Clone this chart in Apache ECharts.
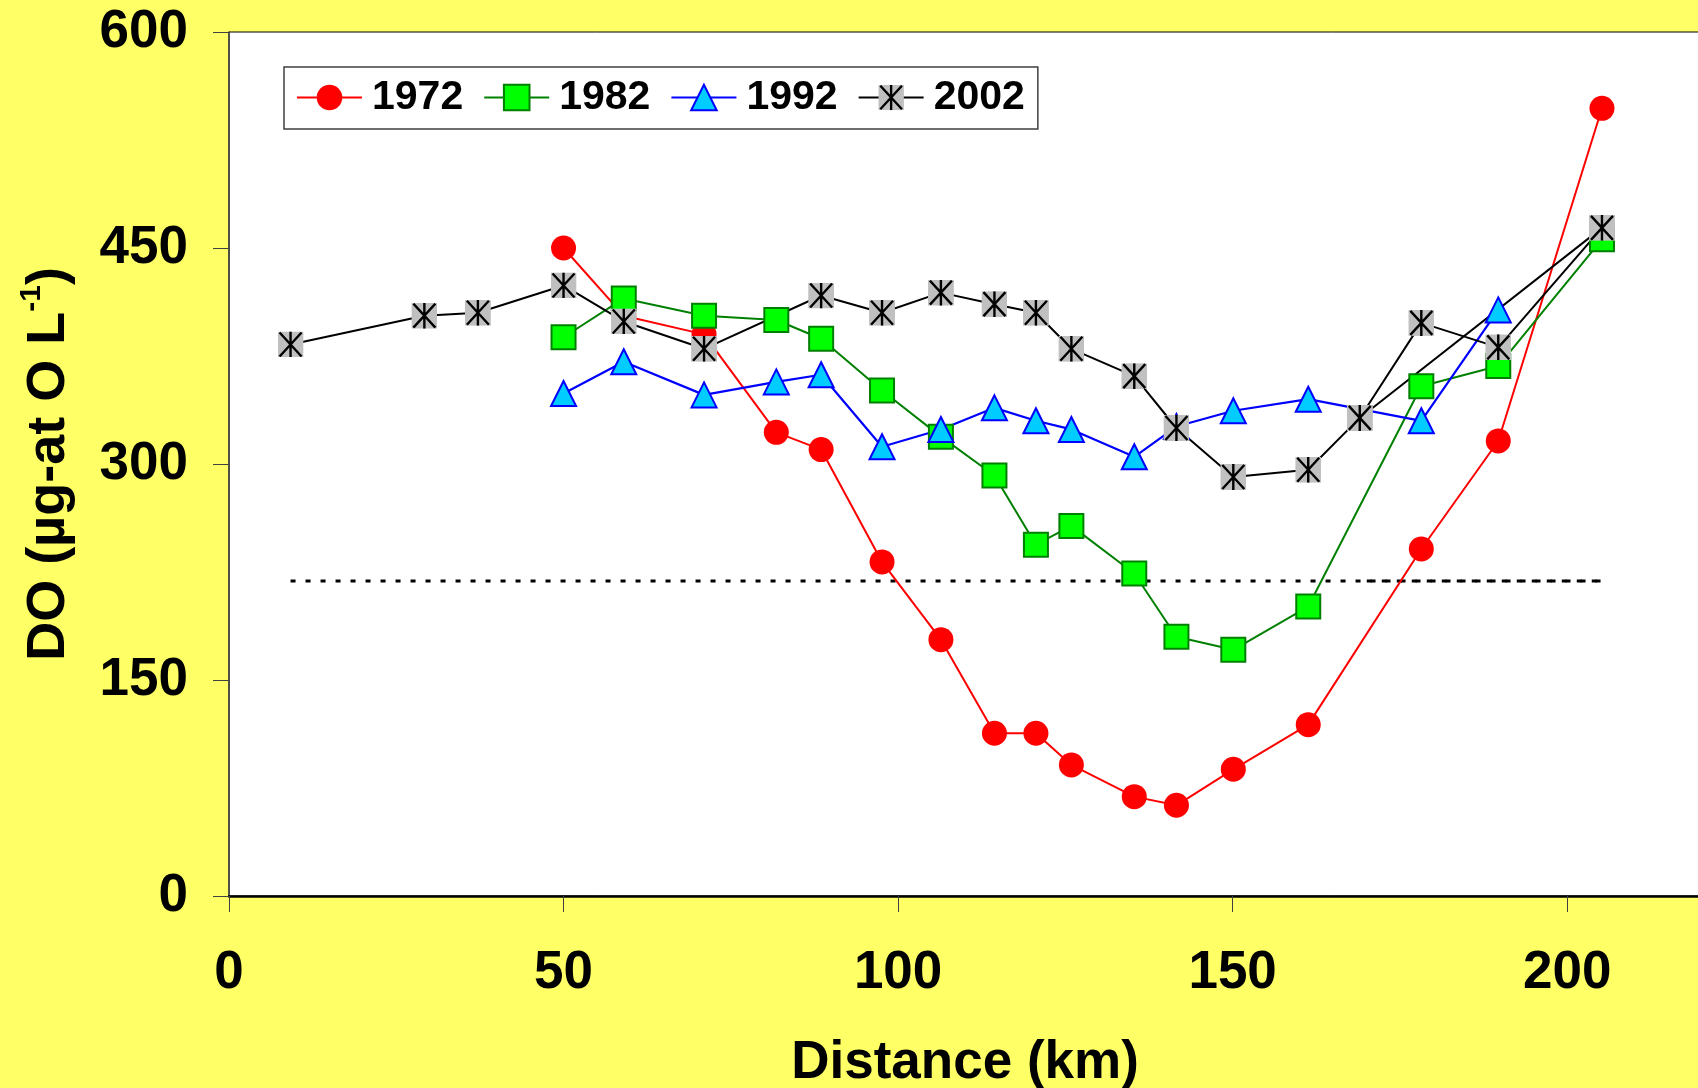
<!DOCTYPE html>
<html>
<head>
<meta charset="utf-8">
<script src="https://cdn.jsdelivr.net/npm/echarts@6/dist/echarts.min.js"></script>
<style>
html,body{margin:0;padding:0;background:#FFFF66;}
#chart{width:1698px;height:1088px;}
</style>
</head>
<body>
<div id="chart"></div>
<script>
// ---- data (distance in km, DO in µg-at O/L) ----
const km1972 = [50, 59, 71, 81.8, 88.5, 97.6, 106.4, 114.4, 120.6, 125.9, 135.3, 141.6, 150.1, 161.3, 178.2, 189.7, 205.2];
const do1972 = [450, 403, 390, 322, 310, 232, 178, 113, 113, 91, 69, 63, 88, 119, 241, 316, 547];

const km1982 = [50, 59, 71, 81.8, 88.5, 97.6, 106.4, 114.4, 120.6, 125.9, 135.3, 141.6, 150.1, 161.3, 178.2, 189.7, 205.2];
const do1982 = [388, 415, 403, 400, 387, 351, 319, 292, 244, 257, 224, 180, 171, 201, 354, 368, 456];

const km1992 = [50, 59, 71, 81.8, 88.5, 97.6, 106.4, 114.4, 120.6, 125.9, 135.3, 141.6, 150.1, 161.3, 178.2, 189.7];
const do1992 = [349, 371, 348, 357, 362, 312, 324, 339, 330, 324, 305, 326, 337, 345, 330, 407];

const km2002 = [9.2, 29.2, 37.2, 50, 59, 71, 88.5, 97.6, 106.4, 114.4, 120.6, 125.9, 135.3, 141.6, 150.1, 161.3, 169, 178.2, 189.7, 205.2, 169];
const do2002 = [383, 403, 405, 424, 399, 380, 417, 405, 419, 411, 405, 380, 361, 325, 291, 296, 332, 398, 381, 464, 332];

const kmLimit = [9.2, 205.2];
const doLimit = [218.75, 218.75];
const kmLimit2 = [169, 205.2];
const doLimit2 = [218.75, 218.75];

const seriesNames = ['1972', '1982', '1992', '2002'];
const xTicks = [0, 50, 100, 150, 200];
const yTicks = [0, 150, 300, 450, 600];

function pairs(xs, ys) { return xs.map((x, i) => [x, ys[i]]); }

const starSvg = "<svg xmlns='http://www.w3.org/2000/svg' width='26' height='26' viewBox='0 0 26 26'>" +
  "<rect x='0' y='0' width='26' height='26' fill='#C0C0C0'/>" +
  "<path d='M2,1 L24,25 M24,1 L2,25 M13,0 L13,26' stroke='#000' stroke-width='2.4' fill='none'/></svg>";
const starSymbol = 'image://data:image/svg+xml;charset=utf-8,' + encodeURIComponent(starSvg);

const FONT = "'Liberation Sans', Arial, sans-serif";

const chart = echarts.init(document.getElementById('chart'), null, {renderer: 'canvas'});
chart.setOption({
  backgroundColor: '#FFFF66',
  animation: false,
  textStyle: {fontFamily: FONT},
  grid: {
    left: 229, top: 32, width: 1472, height: 864,
    outerBoundsMode: 'none', containLabel: false,
    show: true, backgroundColor: '#FFFFFF', borderColor: '#000', borderWidth: 1
  },
  legend: {
    data: seriesNames,
    left: 284, top: 67,
    orient: 'horizontal',
    backgroundColor: '#FFFFFF',
    borderColor: '#404040', borderWidth: 1.5,
    padding: [10, 13, 11, 12],
    itemWidth: 65, itemHeight: 32, itemGap: 20,
    textStyle: {fontSize: 41, fontWeight: 'bold', color: '#000', fontFamily: FONT, padding: [0, 0, 0, 5]}
  },
  xAxis: {
    type: 'value', min: 0, max: 220, interval: 50,
    name: 'Distance (km)', nameLocation: 'middle', nameGap: 141,
    nameTextStyle: {fontSize: 53, fontWeight: 'bold', color: '#000', fontFamily: FONT},
    axisLine: {show: true, onZero: false, lineStyle: {color: '#000', width: 2.5}},
    axisTick: {show: true, inside: false, length: 16, lineStyle: {color: '#404040', width: 1}},
    axisLabel: {
      fontSize: 53, fontWeight: 'bold', color: '#000', margin: 51, fontFamily: FONT,
      showMaxLabel: false,
      formatter: v => (xTicks.indexOf(v) >= 0 ? String(v) : '')
    },
    splitLine: {show: false}
  },
  yAxis: {
    type: 'value', min: 0, max: 600, interval: 150,
    name: '{a|DO (µg-at O L}{s|-1}{a|)}', nameLocation: 'middle', nameGap: 148, nameRotate: 90,
    nameTextStyle: {
      color: '#000', fontFamily: FONT,
      rich: {
        a: {fontSize: 54, fontWeight: 'bold', color: '#000', fontFamily: FONT, lineHeight: 64, verticalAlign: 'middle'},
        s: {fontSize: 30, fontWeight: 'bold', color: '#000', fontFamily: FONT, lineHeight: 30, verticalAlign: 'top'}
      }
    },
    axisLine: {show: true, lineStyle: {color: '#404040', width: 1.5}},
    axisTick: {show: true, inside: false, length: 16, lineStyle: {color: '#404040', width: 1}},
    axisLabel: {
      fontSize: 53, fontWeight: 'bold', color: '#000', margin: 41, fontFamily: FONT,
      formatter: v => (yTicks.indexOf(v) >= 0 ? String(v) : '')
    },
    splitLine: {show: false}
  },
  series: [
    {
      name: 'limit', type: 'line', data: pairs(kmLimit, doLimit),
      symbol: 'none', silent: true,
      lineStyle: {color: '#000', width: 3, type: [5, 10]}
    },
    {
      name: 'limit2', type: 'line', data: pairs(kmLimit2, doLimit2),
      symbol: 'none', silent: true,
      lineStyle: {color: '#000', width: 3, type: [5, 10], dashOffset: 8}
    },
    {
      name: '1972', type: 'line', data: pairs(km1972, do1972),
      symbol: 'circle', symbolSize: 25,
      itemStyle: {color: '#FF0000', borderColor: '#FF0000', borderWidth: 0},
      lineStyle: {color: '#FF0000', width: 2}
    },
    {
      name: '1982', type: 'line', data: pairs(km1982, do1982),
      symbol: 'rect', symbolSize: 24,
      itemStyle: {color: '#00FF00', borderColor: '#008000', borderWidth: 2},
      lineStyle: {color: '#008000', width: 2}
    },
    {
      name: '1992', type: 'line', data: pairs(km1992, do1992),
      symbol: 'triangle', symbolSize: 25,
      itemStyle: {color: '#00CCFF', borderColor: '#0000FF', borderWidth: 2},
      lineStyle: {color: '#0000FF', width: 2.2}
    },
    {
      name: '2002', type: 'line', data: pairs(km2002, do2002),
      symbol: starSymbol, symbolSize: 26,
      itemStyle: {color: '#000'},
      lineStyle: {color: '#000', width: 2}
    }
  ]
});
</script>
</body>
</html>
